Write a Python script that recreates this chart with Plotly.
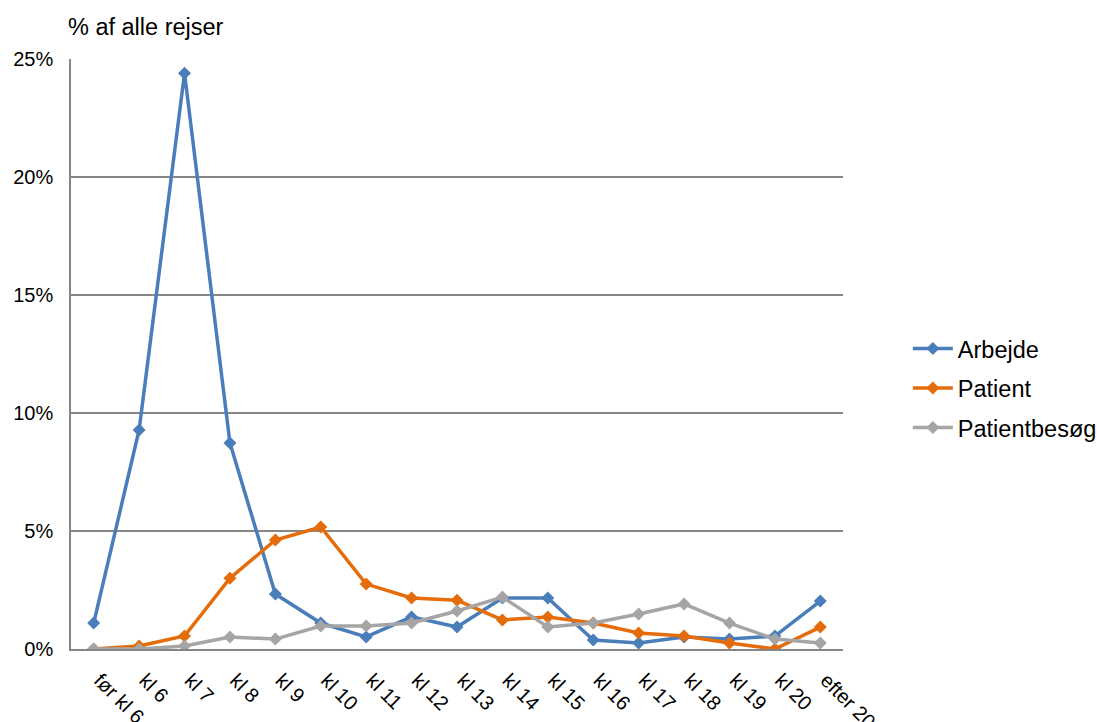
import plotly.graph_objects as go

categories = ["før kl 6", "kl 6", "kl 7", "kl 8", "kl 9", "kl 10", "kl 11", "kl 12",
              "kl 13", "kl 14", "kl 15", "kl 16", "kl 17", "kl 18", "kl 19", "kl 20",
              "efter 20"]

arbejde = [1.1, 9.28, 24.4, 8.73, 2.33, 1.1, 0.51, 1.36, 0.93, 2.16, 2.16, 0.38,
           0.25, 0.51, 0.42, 0.55, 2.03]
patient = [0.0, 0.13, 0.55, 3.0, 4.62, 5.17, 2.75, 2.16, 2.07, 1.23, 1.36, 1.1,
           0.68, 0.55, 0.25, 0.0, 0.93]
patientbesoeg = [0.0, 0.0, 0.13, 0.51, 0.42, 0.97, 0.97, 1.1, 1.61, 2.2, 0.93, 1.1,
                 1.48, 1.91, 1.1, 0.42, 0.25]

series = [
    ("Arbejde", arbejde, "#4a7ebb"),
    ("Patient", patient, "#e46c0a"),
    ("Patientbesøg", patientbesoeg, "#a5a5a5"),
]

FONT = "Liberation Sans, Arial, sans-serif"

fig = go.Figure()
for name, values, color in series:
    fig.add_trace(go.Scatter(
        x=categories,
        y=[v / 100 for v in values],
        name=name,
        legendgroup=name,
        mode="lines+markers",
        line=dict(color=color, width=3.5),
        marker=dict(symbol="diamond", size=10, color=color),
    ))

fig.update_layout(
    width=1097,
    height=722,
    margin=dict(l=71, r=254, t=59, b=73, autoexpand=False),
    paper_bgcolor="white",
    plot_bgcolor="white",
    font=dict(family=FONT, size=20, color="black"),
    showlegend=True,
    legend=dict(
        x=1.084, y=0.442, xanchor="left", yanchor="middle",
        font=dict(family=FONT, size=23.5, color="black"),
        traceorder="grouped", tracegroupgap=6, itemwidth=40,
    ),
    xaxis=dict(
        type="category",
        automargin=False,
        range=[-0.5, len(categories) - 0.5],
        showgrid=False,
        showline=True, linecolor="#868686", linewidth=1.5,
        ticks="outside", ticklen=10, tickcolor="rgba(0,0,0,0)",
        tickangle=45, ticklabelshift=6,
        tickfont=dict(family=FONT, size=20),
    ),
    yaxis=dict(
        automargin=False,
        range=[0, 0.25],
        tickvals=[0, 0.05, 0.10, 0.15, 0.20, 0.25],
        tickformat=".0%",
        showgrid=True, gridcolor="#868686", gridwidth=1.5,
        showline=True, linecolor="#868686", linewidth=1.5,
        zeroline=False,
        ticks="outside", ticklen=12, tickcolor="rgba(0,0,0,0)",
        tickfont=dict(family=FONT, size=20),
    ),
    annotations=[dict(
        text="% af alle rejser",
        xref="paper", yref="paper",
        x=-0.007, y=1.054, xanchor="left", yanchor="middle",
        showarrow=False,
        font=dict(family=FONT, size=23.5, color="black"),
    )],
)

fig.write_html("out.html")
